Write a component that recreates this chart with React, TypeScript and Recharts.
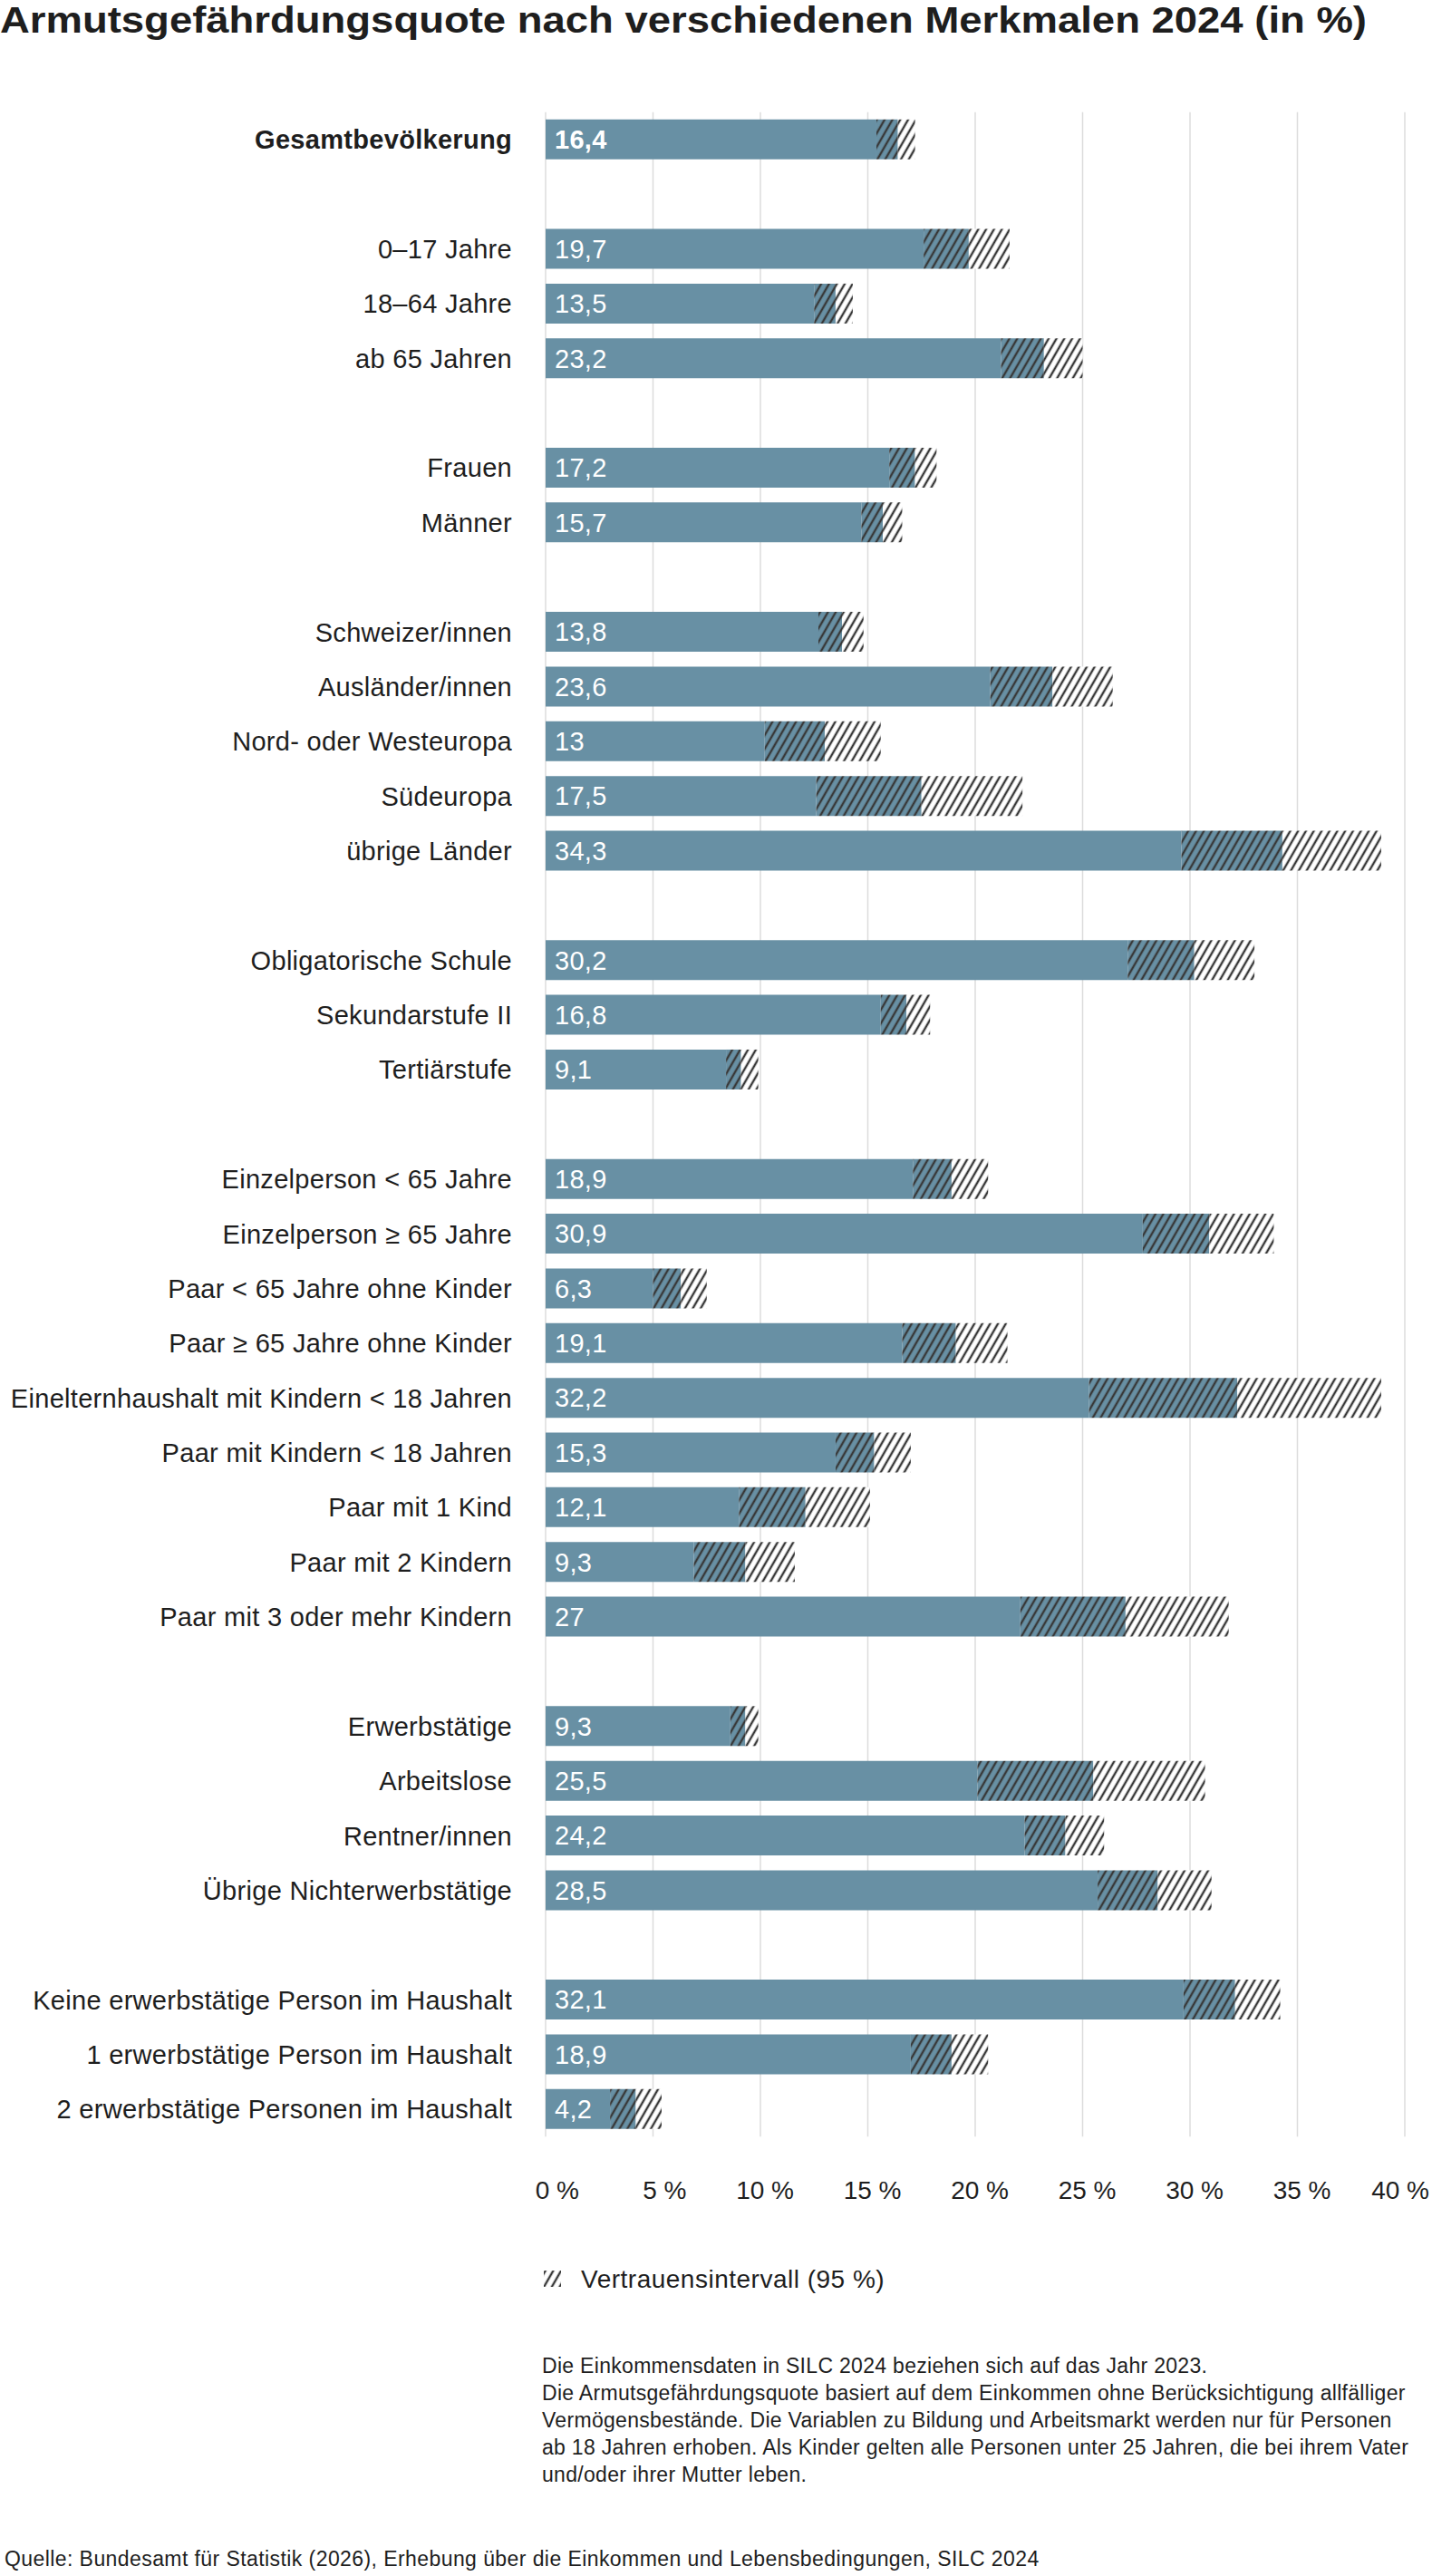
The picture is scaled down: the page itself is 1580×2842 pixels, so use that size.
import { BarChart, Bar, XAxis, YAxis, CartesianGrid, LabelList } from "recharts";

// Reihen inkl. Leerzeilen zwischen den Gruppen
const categories = [
  "Gesamtbevölkerung",
  "",
  "0–17 Jahre",
  "18–64 Jahre",
  "ab 65 Jahren",
  "",
  "Frauen",
  "Männer",
  "",
  "Schweizer/innen",
  "Ausländer/innen",
  "Nord- oder Westeuropa",
  "Südeuropa",
  "übrige Länder",
  "",
  "Obligatorische Schule",
  "Sekundarstufe II",
  "Tertiärstufe",
  "",
  "Einzelperson < 65 Jahre",
  "Einzelperson ≥ 65 Jahre",
  "Paar < 65 Jahre ohne Kinder",
  "Paar ≥ 65 Jahre ohne Kinder",
  "Einelternhaushalt mit Kindern < 18 Jahren",
  "Paar mit Kindern < 18 Jahren",
  "Paar mit 1 Kind",
  "Paar mit 2 Kindern",
  "Paar mit 3 oder mehr Kindern",
  "",
  "Erwerbstätige",
  "Arbeitslose",
  "Rentner/innen",
  "Übrige Nichterwerbstätige",
  "",
  "Keine erwerbstätige Person im Haushalt",
  "1 erwerbstätige Person im Haushalt",
  "2 erwerbstätige Personen im Haushalt",
];

const rate = [
  16.4, null, 19.7, 13.5, 23.2, null, 17.2, 15.7, null, 13.8, 23.6, 13.0, 17.5,
  34.3, null, 30.2, 16.8, 9.1, null, 18.9, 30.9, 6.3, 19.1, 32.2, 15.3, 12.1, 9.3,
  27.0, null, 9.3, 25.5, 24.2, 28.5, null, 32.1, 18.9, 4.2,
];

// Vertrauensintervall (95 %)
const lower = [
  15.4, null, 17.6, 12.5, 21.2, null, 16.0, 14.7, null, 12.7, 20.7, 10.2, 12.6,
  29.6, null, 27.1, 15.6, 8.4, null, 17.1, 27.8, 5.0, 16.6, 25.3, 13.5, 9.0, 6.9,
  22.1, null, 8.6, 20.1, 22.3, 25.7, null, 29.7, 17.0, 3.0,
];
const upper = [
  17.2, null, 21.6, 14.3, 25.0, null, 18.2, 16.6, null, 14.8, 26.4, 15.6, 22.2,
  38.9, null, 33.0, 17.9, 9.9, null, 20.6, 33.9, 7.5, 21.5, 38.9, 17.0, 15.1, 11.6,
  31.8, null, 9.9, 30.7, 26.0, 31.0, null, 34.2, 20.6, 5.4,
];

const xTicks = [0, 5, 10, 15, 20, 25, 30, 35, 40];

const title = "Armutsgefährdungsquote nach verschiedenen Merkmalen 2024 (in %)";
const legendLabel = "Vertrauensintervall (95 %)";
const notes = [
  "Die Einkommensdaten in SILC 2024 beziehen sich auf das Jahr 2023.",
  "Die Armutsgefährdungsquote basiert auf dem Einkommen ohne Berücksichtigung allfälliger",
  "Vermögensbestände. Die Variablen zu Bildung und Arbeitsmarkt werden nur für Personen",
  "ab 18 Jahren erhoben. Als Kinder gelten alle Personen unter 25 Jahren, die bei ihrem Vater",
  "und/oder ihrer Mutter leben.",
];
const source =
  "Quelle: Bundesamt für Statistik (2026), Erhebung über die Einkommen und Lebensbedingungen, SILC 2024";

const BLUE = "#6890a4";
const INK = "#1e1e1e";
const HATCH = "#383838";
const FONT = "'Liberation Sans', Arial, Helvetica, sans-serif";

const fmt = (v: number) => String(v).replace(".", ",");

const rows = categories.map((name, i) => ({
  name,
  base: lower[i],
  inner: rate[i] == null ? null : rate[i]! - lower[i]!,
  outer: rate[i] == null ? null : upper[i]! - rate[i]!,
  label: rate[i] == null ? "" : fmt(rate[i]!),
}));

const CategoryTick = ({ x, y, payload }: any) => (
  <text
    x={x - 37}
    y={y}
    dy="0.355em"
    textAnchor="end"
    fontSize={29}
    letterSpacing={0.3}
    fontFamily={FONT}
    fill={INK}
    fontWeight={payload.value === categories[0] ? 700 : 400}
  >
    {payload.value}
  </text>
);

const PercentTick = ({ x, y, payload }: any) => (
  <text
    x={Math.min(x + 37, 1577)}
    y={y + 69}
    textAnchor="end"
    fontSize={28}
    fontFamily={FONT}
    fill={INK}
  >
    {payload.value} %
  </text>
);

const ValueLabel = (props: any) => {
  const { x, y, height, value, index } = props;
  if (!value) return null;
  return (
    <text
      x={x + 10}
      y={y + height / 2}
      dy="0.355em"
      fontSize={29}
      letterSpacing={0.3}
      fontFamily={FONT}
      fill="#ffffff"
      fontWeight={index === 0 ? 700 : 400}
    >
      {value}
    </text>
  );
};

const Patterns = () => (
  <svg width={0} height={0} style={{ position: "absolute" }}>
    <defs>
      <pattern id="hatchBlue" patternUnits="userSpaceOnUse" width={7.5} height={10} patternTransform="rotate(30)">
        <rect width={7.5} height={10} fill={BLUE} />
        <line x1={3.75} y1={0} x2={3.75} y2={10} stroke={HATCH} strokeWidth={2.4} />
      </pattern>
      <pattern id="hatchWhite" patternUnits="userSpaceOnUse" width={7.5} height={10} patternTransform="rotate(30)">
        <rect width={7.5} height={10} fill="#ffffff" />
        <line x1={3.75} y1={0} x2={3.75} y2={10} stroke={HATCH} strokeWidth={2.4} />
      </pattern>
    </defs>
  </svg>
);

const App = () => {
  return (
    <div
      style={{
        position: "absolute",
        top: 0,
        left: 0,
        width: 1580,
        height: 2842,
        background: "#fff",
        fontFamily: FONT,
      }}
    >
      <Patterns />
      <div style={{ position: "absolute", top: 0, left: 0 }}>
        <BarChart
          width={1580}
          height={2460}
          data={rows}
          layout="vertical"
          barSize={44}
          margin={{ top: 123.8, right: 30, bottom: 0, left: 0 }}
        >
          <CartesianGrid horizontal={false} stroke="#dcdcdc" strokeWidth={1.5} />
          <XAxis
            type="number"
            domain={[0, 40]}
            ticks={xTicks}
            axisLine={false}
            tickLine={false}
            tickSize={0}
            tickMargin={0}
            height={102.8}
            tick={<PercentTick />}
            interval={0}
          />
          <YAxis
            type="category"
            dataKey="name"
            width={602}
            axisLine={false}
            tickLine={false}
            tickSize={0}
            tickMargin={0}
            interval={0}
            tick={<CategoryTick />}
          />
          <Bar dataKey="base" stackId="ci" fill={BLUE} isAnimationActive={false}>
            <LabelList dataKey="label" content={<ValueLabel />} />
          </Bar>
          <Bar dataKey="inner" stackId="ci" fill="url(#hatchBlue)" isAnimationActive={false} />
          <Bar dataKey="outer" stackId="ci" fill="url(#hatchWhite)" isAnimationActive={false} />
        </BarChart>
      </div>
      <svg
        width={1580}
        height={2842}
        style={{ position: "absolute", top: 0, left: 0, pointerEvents: "none" }}
      >
        <defs>
          <pattern id="hatchLegend" patternUnits="userSpaceOnUse" width={7.5} height={10} patternTransform="rotate(30)">
            <line x1={3.75} y1={0} x2={3.75} y2={10} stroke={HATCH} strokeWidth={2.4} />
          </pattern>
        </defs>
        <text
          x={0}
          y={36}
          fontSize={40}
          fontWeight={700}
          fill={INK}
          fontFamily={FONT}
          textLength={1508}
          lengthAdjust="spacingAndGlyphs"
        >
          {title}
        </text>
        <rect x={600} y={2505} width={19} height={18} fill="url(#hatchLegend)" />
        <text x={641} y={2524} fontSize={28} letterSpacing={0.5} fill={INK} fontFamily={FONT}>
          {legendLabel}
        </text>
        {notes.map((line, i) => (
          <text
            key={i}
            x={598}
            y={2618 + i * 30}
            fontSize={23}
            letterSpacing={0.3}
            fill={INK}
            fontFamily={FONT}
          >
            {line}
          </text>
        ))}
        <text x={5} y={2831} fontSize={23} letterSpacing={0.42} fill={INK} fontFamily={FONT}>
          {source}
        </text>
      </svg>
    </div>
  );
};

export default App;
